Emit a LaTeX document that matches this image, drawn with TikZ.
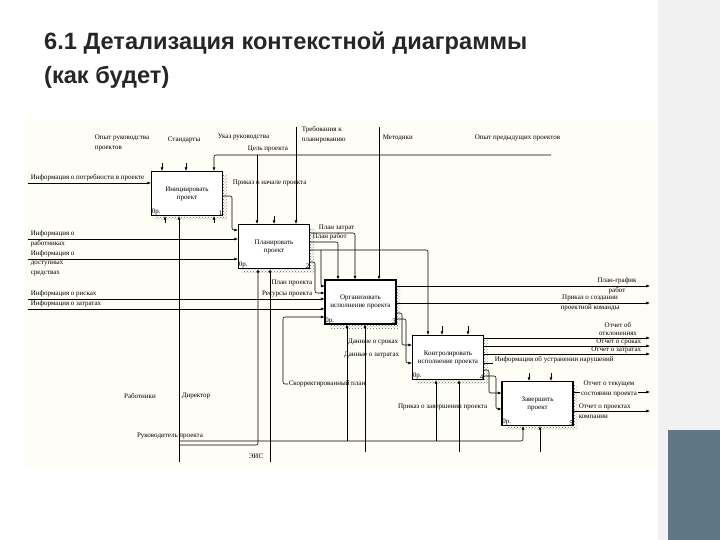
\documentclass[tikz,border=0pt]{standalone}
\usepackage{fontspec}
\setmainfont{Liberation Serif}
\newfontfamily\headfont{Liberation Sans}
\usetikzlibrary{arrows.meta,shadows,patterns}

\definecolor{paper}{RGB}{254,253,246}
\definecolor{slate}{RGB}{95,119,132}
\definecolor{sidegray}{RGB}{241,241,241}

\tikzset{
  head/.style={font=\headfont\bfseries\fontsize{23.6}{28}\selectfont,text=black!85,inner sep=0pt},
  func/.style={draw,line width=1.1pt,fill=white,minimum width=71pt,minimum height=44pt,
    align=center,inner sep=1pt,font=\fontsize{7}{8}\selectfont,
    general shadow={shadow xshift=4pt,shadow yshift=-4pt,pattern=crosshatch dots,pattern color=black!60}},
  lbl/.style={font=\fontsize{7}{8}\selectfont,inner sep=0.6pt,align=left},
  lbl2/.style={font=\fontsize{7}{10}\selectfont,inner sep=0.6pt,align=left},
  arr/.style={line width=0.6pt,rounded corners=2pt,-{Latex[length=3.6pt,width=3pt]}},
  ln/.style={line width=0.6pt,rounded corners=2pt},
}

\begin{document}
\begin{tikzpicture}[x=1pt,y=-1pt]
\useasboundingbox (0,0) rectangle (720,540);

% slide
\fill[white] (0,0) rectangle (720,540);
\fill[sidegray] (658,0) rectangle (720,540);
\fill[slate] (668,430) rectangle (720,540);
\node[head,anchor=base west] (title1) at (44,50) {6.1 Детализация контекстной диаграммы};
\node[head,anchor=base west] (title2) at (44,84) {(как будет)};
\fill[paper] (25,120) rectangle (656,468);

% functions
\node[func] (b1) at (187,193.5) {Инициировать\\проект};
\node[func] (b2) at (274,246.5) {Планировать\\проект};
\node[func] (b3) at (360.5,302) {Организовать\\исполнение проекта};
\node[func] (b4) at (448,357.5) {Контролировать\\исполнение проекта};
\node[func] (b5) at (537.5,403.5) {Завершить\\проект};
\foreach \b/\n in {b1/1,b2/2,b3/3,b4/4,b5/5}{
  \node[lbl,anchor=south west] (\b-op) at (\b.south west) {0р.};
  \node[lbl,anchor=south east] (\b-no) at (\b.south east) {\n};
}

% controls
\coordinate (s1) at (162,163);
\coordinate (s2) at (186,163);
\draw[arr] (s1) -- (s1 |- b1.north);
\draw[arr] (s2) -- (s2 |- b1.north);
\coordinate (topR) at (551,155);
\coordinate (topL) at (214,155);
\coordinate (topC) at (257,155);
\draw[arr] (topR) -- (topL) -- (topL |- b1.north);
\draw[arr] (topC) -- (topC |- b2.north);
\coordinate (treb0) at (296,127);
\draw[arr] (treb0) -- (treb0 |- b2.north);
\coordinate (s3) at (274,216);
\draw[arr] (s3) -- (s3 |- b2.north);
\coordinate (met0) at (379,127);
\draw[arr] (met0) -- (met0 |- b3.north);
\foreach \x/\b in {442/b4,468/b4}
  \draw[arr] (\x,326) -- (\x,0 |- \b.north);
\foreach \x/\b in {529/b5,551/b5}
  \draw[arr] (\x,373) -- (\x,0 |- \b.north);

\node[lbl2,anchor=west] (opyt) at (94,143) {Опыт руководства\\проектов};
\node[lbl,anchor=west] (std) at (167,140) {Стандарты};
\node[lbl,anchor=west] (ukaz) at (217,137) {Указ руководства};
\node[lbl,anchor=west] (cel) at (247,149) {Цель проекта};
\node[lbl2,anchor=west] (treb) at (301,135) {Требования к\\планированию};
\node[lbl,anchor=west] (met) at (382,138) {Методики};
\node[lbl,anchor=west] (opp) at (474,138) {Опыт предыдущих проектов};

% inputs
\coordinate (i1) at (28,183);
\draw[arr] (i1) -- (i1 -| b1.west);
\node[lbl,anchor=south west] (i1l) at (30,182) {Информация о потребности в проекте};
\draw[arr] (b1.east |- 0,196) -| (232,230) -- (b2.west |- 0,230);
\node[lbl,anchor=west] (prik) at (232,183) {Приказ о начале проекта};
\coordinate (i2) at (28,239);
\draw[arr] (i2) -- (i2 -| b2.west);
\node[lbl2,anchor=west] (i2l) at (30,239) {Информация о\\работниках};
\coordinate (i3) at (28,259);
\draw[arr] (i3) -- (i3 -| b2.west);
\node[lbl,anchor=south west] (i3a) at (30,258) {Информация о};
\node[lbl2,anchor=north west] (i3b) at (30,260) {доступных\\средствах};
\coordinate (i4) at (28,299);
\draw[arr] (i4) -- (i4 -| b3.west);
\node[lbl,anchor=south west] (i4l) at (30,298) {Информация о рисках};
\coordinate (i5) at (28,309);
\draw[arr] (i5) -- (i5 -| b3.west);
\node[lbl,anchor=south west] (i5l) at (30,308) {Информация о затратах};

% planning outputs
\draw[arr] (b2.east |- 0,233) -| (355,0 |- b3.north);
\node[lbl,anchor=south west] (pz) at (318,232) {План затрат};
\draw[arr] (b2.east |- 0,242) -| (338,0 |- b3.north);
\node[lbl,anchor=south west] (pr) at (312,241) {План работ};
\draw[arr] (b2.east |- 0,250) -| (428,0 |- b4.north);
\coordinate (pp) at (321,250);
\draw[arr] (pp) |- (b3.west |- 0,286);
\node[lbl,anchor=east] (ppl) at (313,283) {План проекта};
\draw[arr] (b2.east |- 0,262) -| (315,293) -- (b3.west |- 0,293);
\node[lbl,anchor=east] (rpl) at (313,294) {Ресурсы проекта};
\node[lbl,anchor=west] (korr) at (288,384) {Скорректированный план};
\draw[arr] (korr.west) -| (283,317) -- (b3.west |- 0,317);

% organisation outputs
\coordinate (o1) at (650,286);
\draw[arr] (b3.east |- o1) -- (o1);
\node[lbl2,align=center] (o1l) at (617,286) {План-график\\работ};
\coordinate (o2) at (650,303);
\draw[arr] (b3.east |- o2) -- (o2);
\node[lbl2,align=center] (o2l) at (590,303) {Приказ о создании\\проектной команды};
\draw[arr] (b3.east |- 0,313) -| (402,345) -- (b4.west |- 0,345);
\draw[arr] (b3.east |- 0,319) -| (406,363) -- (b4.west |- 0,363);
\node[lbl,anchor=east] (dsl) at (399,342) {Данные о сроках};
\node[lbl,anchor=east] (dzl) at (400,355) {Данные о затратах};

% control outputs
\coordinate (o3) at (650,338);
\coordinate (o4) at (650,346);
\coordinate (o5) at (650,354);
\draw[arr] (b4.east |- o3) -- (o3);
\draw[arr] (b4.east |- o4) -- (o4);
\draw[arr] (b4.east |- o5) -- (o5);
\node[lbl,align=center,anchor=south] (o3l) at (618,336) {Отчет об\\отклонениях};
\node[lbl,anchor=east] (o4l) at (642,342) {Отчет о сроках};
\node[lbl,anchor=east] (o5l) at (642,350) {Отчет о затратах};
\coordinate (ust) at (493,363);
\draw[ln] (b4.east |- ust) -- (ust);
\node[lbl,anchor=west] (ustl) at (494,360) {Информация об устранении нарушений};
\draw[arr] (b4.east |- 0,370) -| (489,393) -- (b5.west |- 0,393);
\draw[arr] (b4.east |- 0,376) -| (496,409) -- (b5.west |- 0,409);
\node[lbl,anchor=east] (zav) at (488,407) {Приказ о завершении проекта};

% closing outputs
\coordinate (o6) at (650,392);
\coordinate (o7) at (650,411);
\draw[arr] (b5.east |- o6) -- (o6);
\draw[arr] (b5.east |- o7) -- (o7);
\node[lbl2,align=center,fill=paper] (o6l) at (609,389) {Отчет о текущем\\состоянии проекта};
\node[lbl2,anchor=west] (o7l) at (578,411) {Отчет о проектах\\компании};

% mechanisms
\coordinate (m0) at (179,462);
\draw[arr] (m0) -- (m0 |- b1.south);
\foreach \x in {165,214}
  \draw[arr] (\x,223) -- (\x,0 |- b1.south);
\coordinate (m1) at (179,441);
\draw[arr] (m1) -| (523,0 |- b5.south);
\foreach \x/\b in {347/b3,436/b4}
  \draw[arr] (m1 -| \x,0) -- (\x,0 |- \b.south);
\coordinate (m2) at (179,445);
\draw[arr] (m2) -| (258,0 |- b2.south);
\coordinate (e0) at (270,462);
\draw[arr] (e0) -- (e0 |- b2.south);
\foreach \x/\b in {365/b3,459/b4,540/b5}
  \draw[arr] (\x,452) -- (\x,0 |- \b.south);
\node[lbl] (rab) at (140,396) {Работники};
\node[lbl,anchor=west] (dir) at (181,396) {Директор};
\node[lbl] (ruk) at (170,436) {Руководитель проекта};
\node[lbl] (eis) at (256,456) {ЭИС};
\end{tikzpicture}
\end{document}
